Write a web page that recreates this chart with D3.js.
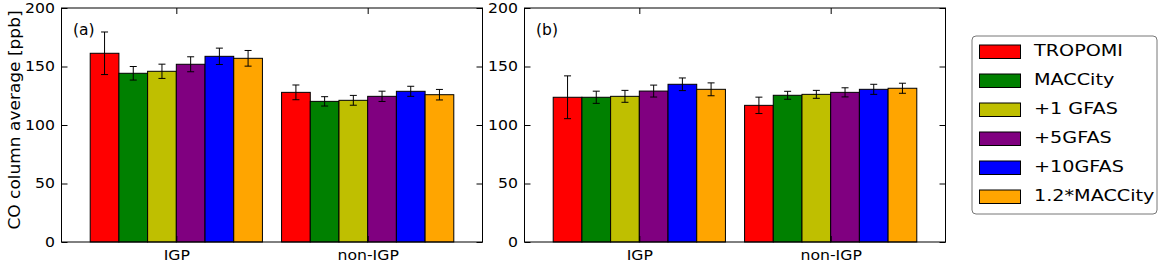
<!DOCTYPE html>
<meta charset="utf-8">
<script src="https://d3js.org/d3.v7.min.js"></script>
<style>
  body { margin: 0; background: #fff; }
  text { font-family: "DejaVu Sans", sans-serif; fill: #000; }
</style>
<div id="my_dataviz"></div>
<script>
    var categories = ["IGP", "non-IGP"];
    var series = ["TROPOMI", "MACCity", "+1 GFAS", "+5GFAS", "+10GFAS", "1.2*MACCity"];
    var colors = ["#ff0000", "#008000", "#bfbf00", "#800080", "#0000ff", "#ffa500"];
    var yTicks = [0, 50, 100, 150, 200];

    // panel (a): values per series, [IGP, non-IGP]
    var meanA = [[161.3, 127.9], [144.2, 120.2], [145.9, 121.1], [151.9, 124.5], [158.7, 128.8], [157.0, 125.9]];
    var errA  = [[18.2, 6.3], [5.8, 4.0], [6.1, 4.2], [6.4, 4.4], [7.0, 4.3], [6.7, 4.5]];
    // panel (b)
    var meanB = [[123.7, 116.8], [123.7, 125.4], [124.5, 126.2], [129.0, 127.9], [134.8, 130.5], [130.5, 131.4]];
    var errB  = [[18.3, 7.0], [5.2, 3.4], [5.1, 3.4], [5.1, 3.9], [5.4, 4.3], [5.5, 4.3]];

    var barWidth = 0.15;
    var stretch = 1.12;   // text in the picture is a bit wider than tall

    var svg = d3.select("#my_dataviz")
        .append("svg")
        .attr("width", 1168)
        .attr("height", 262);

    function drawPanel(left, label, means, errs) {
        var width = 421, height = 234, top = 8;
        var g = svg.append("g")
            .attr("transform", "translate(" + left + "," + top + ")");

        var x = d3.scaleLinear().domain([-0.6, 1.6]).range([0, width]);
        var y = d3.scaleLinear().domain([0, 200]).range([height, 0]);

        // bars
        series.forEach(function (s, j) {
            g.append("g")
                .selectAll("rect")
                .data(categories)
                .enter()
                .append("rect")
                .attr("x", function (d, i) { return x(i - 3 * barWidth + j * barWidth); })
                .attr("width", x(barWidth) - x(0))
                .attr("y", function (d, i) { return y(means[j][i]); })
                .attr("height", function (d, i) { return y(0) - y(means[j][i]); })
                .style("fill", colors[j])
                .style("stroke", "#000")
                .style("stroke-width", 1);
        });

        // error bars
        series.forEach(function (s, j) {
            var eg = g.append("g");
            categories.forEach(function (c, i) {
                var cx = x(i - 3 * barWidth + (j + 0.5) * barWidth);
                var y1 = y(means[j][i] + errs[j][i]), y2 = y(means[j][i] - errs[j][i]);
                eg.append("line").attr("x1", cx).attr("x2", cx).attr("y1", y1).attr("y2", y2)
                    .style("stroke", "#000").style("stroke-width", 1);
                [y1, y2].forEach(function (yy) {
                    eg.append("line").attr("x1", cx - 3.5).attr("x2", cx + 3.5).attr("y1", yy).attr("y2", yy)
                        .style("stroke", "#000").style("stroke-width", 1);
                });
            });
        });

        // axes (ticks inside, classic style)
        var yAxisL = d3.axisLeft(y).tickValues(yTicks).tickSize(-6).tickPadding(6.5);
        var yAxisR = d3.axisRight(y).tickValues(yTicks).tickSize(-6).tickFormat("");
        var xAxisB = d3.axisBottom(x).tickValues([0, 1]).tickSize(-6)
            .tickFormat(function (d) { return categories[d]; });
        var xAxisT = d3.axisTop(x).tickValues([0, 1]).tickSize(-6).tickFormat("");

        var gl = g.append("g").call(yAxisL);
        g.append("g").attr("transform", "translate(" + width + ",0)").call(yAxisR);
        var gb = g.append("g").attr("transform", "translate(0," + height + ")").call(xAxisB);
        g.append("g").call(xAxisT);
        g.selectAll(".domain").remove();

        gl.selectAll("text")
            .style("font-size", "14px").style("font-family", "DejaVu Sans")
            .attr("x", -6.5 / stretch)
            .attr("transform", "scale(" + stretch + ",1)");
        gb.selectAll("text")
            .style("font-size", "14px").style("font-family", "DejaVu Sans")
            .attr("y", 18.5).attr("dy", null)
            .attr("transform", "scale(" + stretch + ",1)");

        g.append("rect")
            .attr("width", width).attr("height", height)
            .style("fill", "none").style("stroke", "#000").style("stroke-width", 1);

        g.append("text")
            .attr("x", 11.5).attr("y", 26.5)
            .style("font-size", "15.5px")
            .text(label);
    }

    drawPanel(61.5, "(a)", meanA, errA);
    drawPanel(524.5, "(b)", meanB, errB);

    // y axis label
    svg.append("text")
        .attr("transform", "translate(20,120) rotate(-90) scale(1,0.88)")
        .style("text-anchor", "middle")
        .style("font-size", "17px")
        .text("CO column average [ppb]");

    // legend
    var legend = svg.append("g").attr("transform", "translate(972,36)");
    legend.append("rect")
        .attr("width", 185).attr("height", 178).attr("rx", 4)
        .style("fill", "#fff").style("stroke", "#777").style("stroke-width", 1);
    var items = legend.selectAll("g.item")
        .data(series)
        .enter()
        .append("g")
        .attr("transform", function (d, i) { return "translate(0," + (9 + i * 29) + ")"; });
    items.append("rect")
        .attr("x", 7.5).attr("width", 41).attr("height", 13.5)
        .style("fill", function (d, i) { return colors[i]; })
        .style("stroke", "#000").style("stroke-width", 1);
    items.append("text")
        .attr("transform", "translate(62,11) scale(1.2,1)")
        .style("font-size", "16px")
        .text(function (d) { return d; });
</script>
